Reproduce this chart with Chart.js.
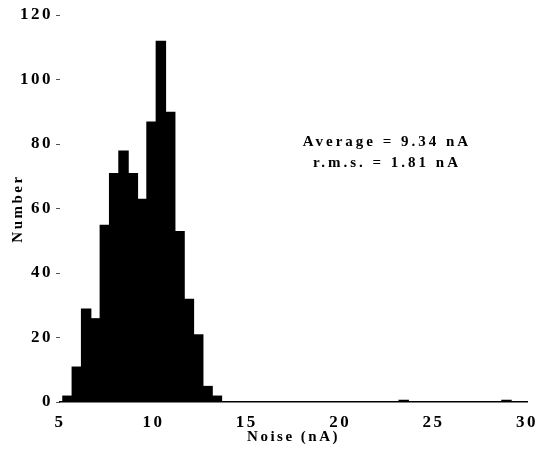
<!DOCTYPE html>
<html>
<head>
<meta charset="utf-8">
<script src="https://cdn.jsdelivr.net/npm/chart.js@4/dist/chart.umd.min.js"></script>
<style>
  html, body { margin: 0; padding: 0; background: #fff; }
  #wrap { width: 548px; height: 455px; }
</style>
</head>
<body>
<div id="wrap"><canvas id="noiseChart"></canvas></div>
<script>
/* ================================
   Data
   ================================ */
const binCenters = [5.4, 5.9, 6.4, 6.9, 7.4, 7.9, 8.4, 8.9, 9.4, 9.9, 10.4, 10.9, 11.4, 11.9, 12.4, 12.9, 13.4, 23.4, 28.9];
const counts     = [2, 11, 29, 26, 55, 71, 78, 71, 63, 87, 112, 90, 53, 32, 21, 5, 2, 0.7, 0.7];
const xTicks = [5, 10, 15, 20, 25, 30];
const yTicks = [0, 20, 40, 60, 80, 100, 120];
const statLines = ["Average = 9.34 nA", "r.m.s. = 1.81 nA"];

const SERIF = '"Liberation Serif", "DejaVu Serif", serif';

// spaced-out lettering like the scanned figure
const spacing = {
  id: "spacing",
  beforeUpdate(chart) { chart.ctx.letterSpacing = "2.5px"; }
};

// stats text in the upper right
const stats = {
  id: "stats",
  afterDraw(chart) {
    const ctx = chart.ctx;
    ctx.save();
    ctx.letterSpacing = "3px";
    ctx.fillStyle = "#000";
    ctx.font = "bold 15px " + SERIF;
    ctx.textAlign = "center";
    ctx.textBaseline = "middle";
    ctx.fillText(statLines[0], 387, 142);
    ctx.fillText(statLines[1], 387, 163);
    ctx.restore();
  }
};

new Chart(document.getElementById("noiseChart"), {
  type: "bar",
  data: {
    datasets: [{
      data: binCenters.map((x, i) => ({ x, y: counts[i] })),
      backgroundColor: "#000",
      borderWidth: 0,
      barPercentage: 1.12,
      categoryPercentage: 1
    }]
  },
  options: {
    responsive: true,
    maintainAspectRatio: false,
    animation: false,
    layout: { padding: { top: 15, right: 17, left: 0, bottom: 0 } },
    plugins: { legend: { display: false }, tooltip: { enabled: false } },
    scales: {
      x: {
        type: "linear",
        min: 5, max: 30,
        offset: false,
        afterBuildTicks: s => { s.ticks = xTicks.map(v => ({ value: v })); },
        afterFit: s => { s.height = 53; },
        grid: { display: false, drawTicks: false },
        border: { display: true, color: "#000", width: 1.5 },
        ticks: { color: "#000", padding: 10, font: { family: SERIF, size: 17, weight: "bold" } },
        title: { display: true, text: "Noise (nA)", color: "#000", padding: { top: 0, bottom: 9 },
                 font: { family: SERIF, size: 15, weight: "bold" } }
      },
      y: {
        min: 0, max: 120,
        afterBuildTicks: s => { s.ticks = yTicks.map(v => ({ value: v })); },
        afterFit: s => { s.width = 60; },
        grid: { drawOnChartArea: false, drawTicks: true, tickLength: 4, color: "#555" },
        border: { display: false },
        ticks: { color: "#000", padding: 3, font: { family: SERIF, size: 17, weight: "bold" } },
        title: { display: true, text: "Number", color: "#000", padding: { top: 9, bottom: 0 },
                 font: { family: SERIF, size: 15, weight: "bold" } }
      }
    }
  },
  plugins: [spacing, stats]
});
</script>
</body>
</html>
